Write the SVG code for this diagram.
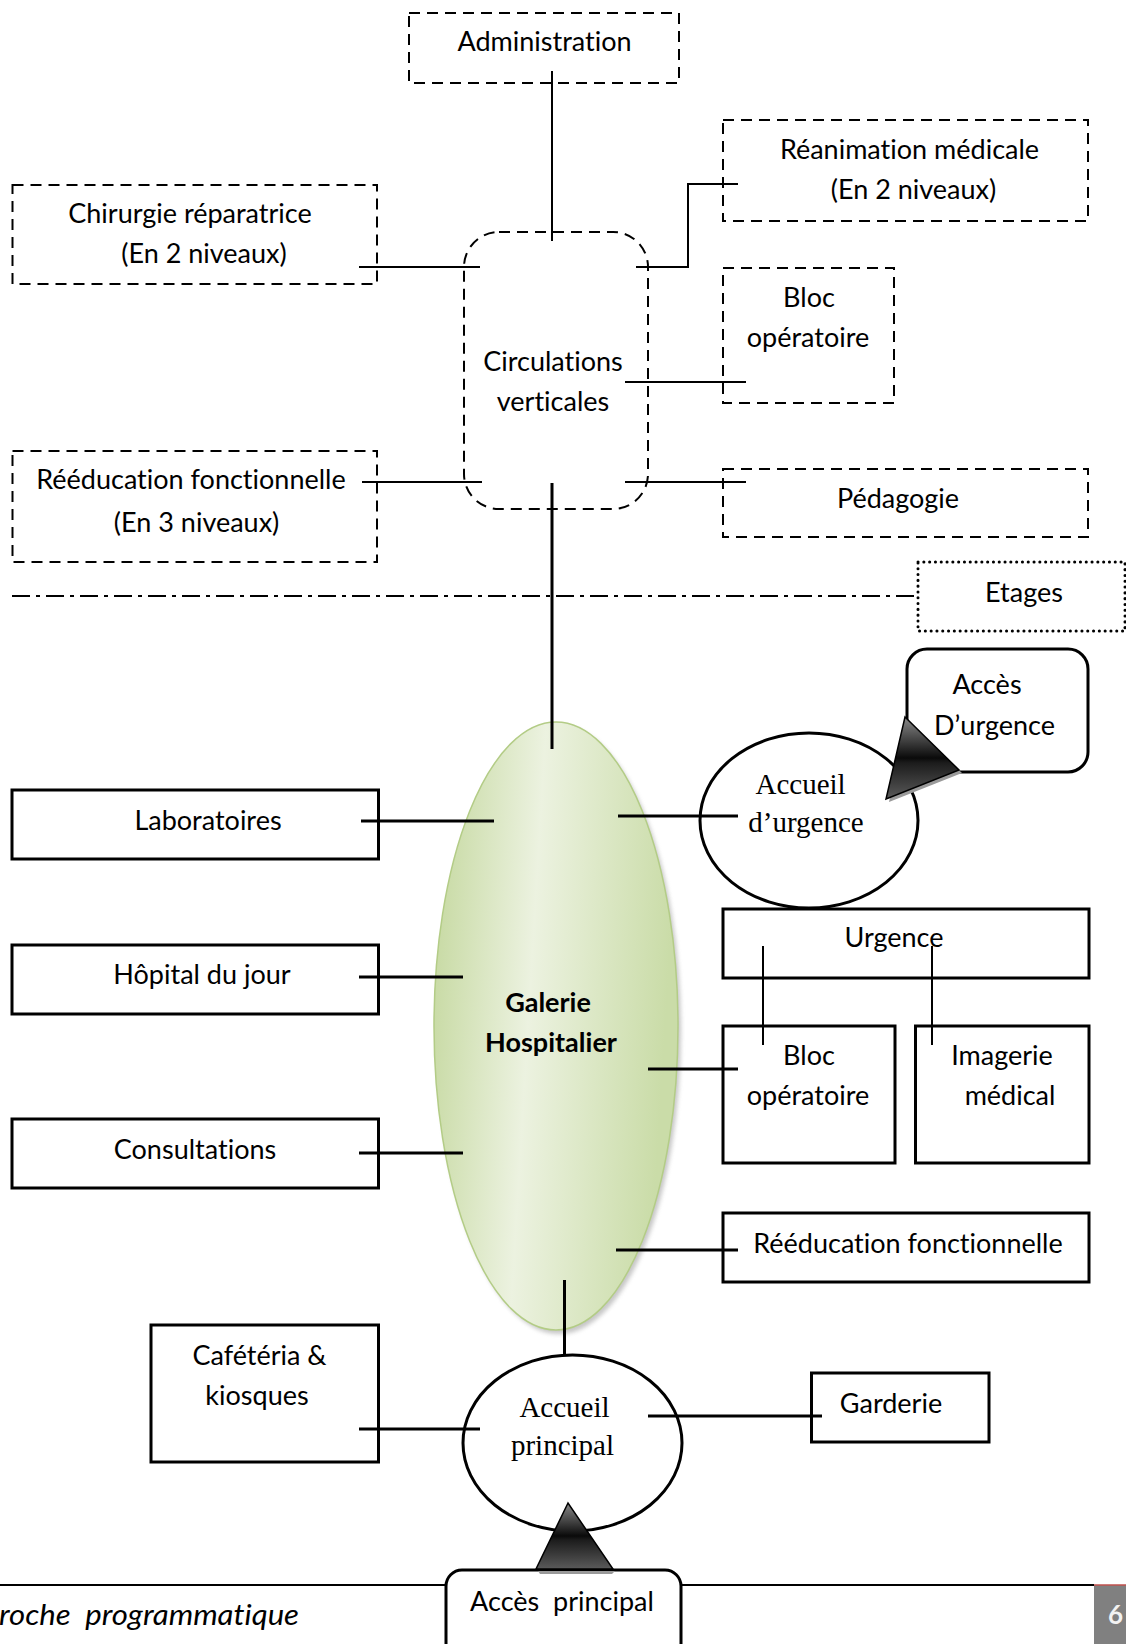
<svg xmlns="http://www.w3.org/2000/svg" width="1126" height="1644" viewBox="0 0 1126 1644">
  <defs>
    <style>
      text { font-variant-ligatures: none; font-feature-settings: "liga" 0; white-space: pre; }
      .t { font-family: Lato, "Liberation Sans", sans-serif; font-size: 27px; fill: #000; text-anchor: middle; }
      .b { font-weight: bold; }
      .serif { font-family: "Liberation Serif", serif; font-size: 29px; fill: #000; text-anchor: middle; }
      .dash { fill: #fff; stroke: #000; stroke-width: 2; stroke-dasharray: 11 7; }
      .solid { fill: #fff; stroke: #000; stroke-width: 3; }
      .ln { fill: none; stroke: #000; stroke-width: 2; }
      .lnb { fill: none; stroke: #000; stroke-width: 3; }
    </style>
    <linearGradient id="greenFill" x1="0" y1="0" x2="1" y2="0.15">
      <stop offset="0" stop-color="#c3d79c"/>
      <stop offset="0.45" stop-color="#ecf2e0"/>
      <stop offset="1" stop-color="#cadca8"/>
    </linearGradient>
    <linearGradient id="darkFill" x1="0" y1="0" x2="0" y2="1">
      <stop offset="0" stop-color="#8a8a8a"/>
      <stop offset="0.5" stop-color="#0a0a0a"/>
      <stop offset="0.56" stop-color="#1c1c1c"/>
      <stop offset="1" stop-color="#5a5a5a"/>
    </linearGradient>
    <filter id="soft" x="-10%" y="-10%" width="120%" height="120%">
      <feGaussianBlur stdDeviation="2"/>
    </filter>
  </defs>

  <rect width="1126" height="1644" fill="#fff"/>

  <!-- floor separator (dash-dot) -->
  <line x1="12" y1="596" x2="918" y2="596" stroke="#000" stroke-width="2" stroke-dasharray="18 6 4 6"/>

  <!-- upper floors -->
  <g id="administration">
    <rect class="dash" x="409" y="13" width="270" height="70"/>
    <text class="t" x="544.5" y="51">Administration</text>
  </g>
  <g id="chirurgie">
    <rect class="dash" x="12.5" y="185" width="364.5" height="99"/>
    <text class="t" x="190" y="223">Chirurgie réparatrice</text>
    <text class="t" x="204" y="263">(En 2 niveaux)</text>
  </g>
  <g id="reanimation">
    <rect class="dash" x="723" y="120" width="365" height="101"/>
    <text class="t" x="909.5" y="159">Réanimation médicale</text>
    <text class="t" x="913.5" y="199">(En 2 niveaux)</text>
  </g>
  <g id="bloc-etage">
    <rect class="dash" x="723" y="268" width="171" height="135"/>
    <text class="t" x="809" y="307">Bloc</text>
    <text class="t" x="808" y="347">opératoire</text>
  </g>
  <g id="pedagogie">
    <rect class="dash" x="723" y="469" width="365" height="68"/>
    <text class="t" x="898" y="508">Pédagogie</text>
  </g>
  <g id="reeducation-etage">
    <rect class="dash" x="12.5" y="451" width="364.5" height="111"/>
    <text class="t" x="191" y="489">Rééducation fonctionnelle</text>
    <text class="t" x="196.6" y="532">(En 3 niveaux)</text>
  </g>
  <g id="circulations">
    <rect class="dash" x="464" y="232" width="184" height="277" rx="35" ry="35"/>
    <text class="t" x="553" y="371">Circulations</text>
    <text class="t" x="553" y="411">verticales</text>
  </g>
  <g id="etages">
    <rect x="918" y="562" width="207" height="69" fill="#fff" stroke="#000" stroke-width="3" stroke-dasharray="0.1 5.7" stroke-linecap="round"/>
    <text class="t" x="1024" y="602">Etages</text>
  </g>

  <!-- ground floor -->
  <g id="galerie">
    <ellipse cx="559" cy="1030" rx="122" ry="304" fill="#9a9a9a" opacity="0.55" filter="url(#soft)"/>
    <ellipse cx="556" cy="1026" rx="122" ry="304" fill="url(#greenFill)" stroke="#b3cc86" stroke-width="1.5"/>
    <text class="t b" x="548" y="1012">Galerie</text>
    <text class="t b" x="551" y="1052">Hospitalier</text>
  </g>
  <g id="acces-urgence">
    <rect class="solid" x="907" y="649" width="181" height="123" rx="20" ry="20"/>
    <text class="t" x="987" y="694">Accès</text>
    <text class="t" x="994.5" y="735">D’urgence</text>
  </g>
  <g id="accueil-urgence">
    <ellipse class="solid" cx="809" cy="820.5" rx="109" ry="87.5"/>
    <text class="serif" x="800.6" y="794">Accueil</text>
    <text class="serif" x="806" y="832">d’urgence</text>
  </g>
  <g id="laboratoires">
    <rect class="solid" x="12" y="790" width="366.5" height="69"/>
    <text class="t" x="208" y="830">Laboratoires</text>
  </g>
  <g id="hopital-jour">
    <rect class="solid" x="12" y="945" width="366.5" height="69"/>
    <text class="t" x="202" y="984">Hôpital du jour</text>
  </g>
  <g id="consultations">
    <rect class="solid" x="12" y="1119" width="366.5" height="69"/>
    <text class="t" x="195" y="1159">Consultations</text>
  </g>
  <g id="urgence">
    <rect class="solid" x="723" y="909" width="366" height="69"/>
    <text class="t" x="894" y="947">Urgence</text>
  </g>
  <g id="bloc-operatoire">
    <rect class="solid" x="723" y="1026" width="172" height="137"/>
    <text class="t" x="809" y="1065">Bloc</text>
    <text class="t" x="808" y="1105">opératoire</text>
  </g>
  <g id="imagerie">
    <rect class="solid" x="915.5" y="1026" width="173.5" height="137"/>
    <text class="t" x="1002" y="1065">Imagerie</text>
    <text class="t" x="1010" y="1105">médical</text>
  </g>
  <g id="reeducation">
    <rect class="solid" x="723" y="1213" width="366" height="69"/>
    <text class="t" x="908" y="1253">Rééducation fonctionnelle</text>
  </g>
  <g id="cafeteria">
    <rect class="solid" x="151" y="1325" width="227.5" height="137"/>
    <text class="t" x="259.5" y="1365">Cafétéria &amp;</text>
    <text class="t" x="257" y="1405">kiosques</text>
  </g>
  <g id="accueil-principal">
    <ellipse class="solid" cx="572.5" cy="1443" rx="109.5" ry="88"/>
    <text class="serif" x="564.5" y="1417">Accueil</text>
    <text class="serif" x="562.5" y="1455">principal</text>
  </g>
  <g id="garderie">
    <rect class="solid" x="811.5" y="1373" width="177.5" height="69"/>
    <text class="t" x="891" y="1413">Garderie</text>
  </g>

  <!-- page footer -->
  <g id="footer">
    <line x1="0" y1="1585" x2="1094" y2="1585" stroke="#000" stroke-width="2"/>
    <text x="-1" y="1625" font-family="Lato, 'Liberation Sans', sans-serif" font-style="italic" font-size="28" textLength="300" lengthAdjust="spacingAndGlyphs">roche  programmatique</text>
    <rect x="1094" y="1585" width="32" height="59" fill="#808080"/>
    <line x1="1094" y1="1585" x2="1126" y2="1585" stroke="#c0504d" stroke-width="1.5"/>
    <text x="1108" y="1624" font-family="Lato, 'Liberation Sans', sans-serif" font-weight="bold" font-size="26" fill="#f2f2f2">6</text>
  </g>

  <g id="acces-principal">
    <rect class="solid" x="446" y="1570" width="235" height="110" rx="16" ry="16"/>
    <text class="t" x="562" y="1611">Accès  principal</text>
  </g>

  <!-- connectors -->
  <g id="connectors">
    <!-- upper floors -->
    <line class="ln" x1="552" y1="71" x2="552" y2="241"/>
    <line class="ln" x1="359" y1="267" x2="480" y2="267"/>
    <polyline class="ln" points="636,267 688,267 688,184 738,184"/>
    <line class="ln" x1="625" y1="382" x2="746" y2="382"/>
    <line class="ln" x1="625" y1="482" x2="746" y2="482"/>
    <line class="ln" x1="362" y1="482" x2="482" y2="482"/>
    <line class="lnb" x1="552" y1="483" x2="552" y2="749"/>
    <!-- ground floor -->
    <line class="lnb" x1="361" y1="821" x2="494" y2="821"/>
    <line class="lnb" x1="618" y1="816" x2="738" y2="816"/>
    <line class="lnb" x1="359" y1="977" x2="463" y2="977"/>
    <line class="lnb" x1="359" y1="1153" x2="463" y2="1153"/>
    <line class="lnb" x1="648" y1="1069" x2="738" y2="1069"/>
    <line class="ln" x1="763" y1="946" x2="763" y2="1045"/>
    <line class="ln" x1="932" y1="946" x2="932" y2="1045"/>
    <line class="lnb" x1="616" y1="1250" x2="738" y2="1250"/>
    <line class="lnb" x1="564.5" y1="1280" x2="564.5" y2="1354"/>
    <line class="lnb" x1="359" y1="1429" x2="480" y2="1429"/>
    <line class="lnb" x1="648" y1="1416" x2="822" y2="1416"/>
    <!-- access arrows -->
    <polygon points="907,720 962,773 889,802" fill="#9a9a9a"/>
    <polygon points="905,717 959,770 886,799" fill="url(#darkFill)" stroke="#000" stroke-width="1.5" stroke-linejoin="miter"/>
    <polygon points="538,1571 615,1571 612,1574 540,1574" fill="#9a9a9a"/>
    <polygon points="568,1503 536,1569 613,1569" fill="url(#darkFill)" stroke="#000" stroke-width="1.5"/>
  </g>
</svg>
